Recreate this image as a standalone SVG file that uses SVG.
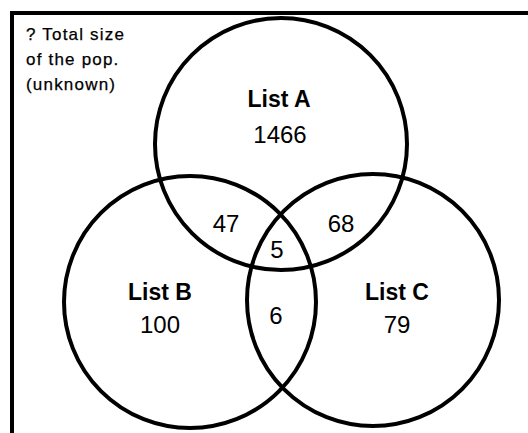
<svg xmlns="http://www.w3.org/2000/svg" width="528" height="433" viewBox="0 0 528 433">
<style>
.c{fill:none;stroke:#000;stroke-width:4}
.lbl{font-family:"Liberation Sans",Arial,sans-serif;font-weight:bold;font-size:23px;text-anchor:middle;fill:#000}
.num{font-family:"Liberation Sans",Arial,sans-serif;font-size:24px;text-anchor:middle;fill:#000}
.note{font-family:"Liberation Sans",Arial,sans-serif;font-size:17px;letter-spacing:1.2px;fill:#000;stroke:#000;stroke-width:0.25}
</style>
<rect width="528" height="433" fill="#fff"/>
<path d="M12,433 L12,13 L528,13" fill="none" stroke="#000" stroke-width="4"/>
<g id="note">
<text class="note" x="26" y="40">? Total size</text>
<text class="note" x="26" y="65">of the pop.</text>
<text class="note" x="26" y="90">(unknown)</text>
</g>
<g id="listA">
<circle class="c" cx="281" cy="144" r="126"/>
<text class="lbl" x="279" y="107">List A</text>
<text class="num" x="280" y="143">1466</text>
</g>
<g id="listB">
<circle class="c" cx="190" cy="302" r="126"/>
<text class="lbl" x="160" y="300">List B</text>
<text class="num" x="160" y="333">100</text>
</g>
<g id="listC">
<circle class="c" cx="373" cy="300" r="126"/>
<text class="lbl" x="397" y="300">List C</text>
<text class="num" x="397" y="333">79</text>
</g>
<g id="overlaps">
<text class="num" x="226" y="232">47</text>
<text class="num" x="341" y="232">68</text>
<text class="num" x="277" y="258">5</text>
<text class="num" x="276" y="324">6</text>
</g>
<g id="connectors"/>
</svg>
